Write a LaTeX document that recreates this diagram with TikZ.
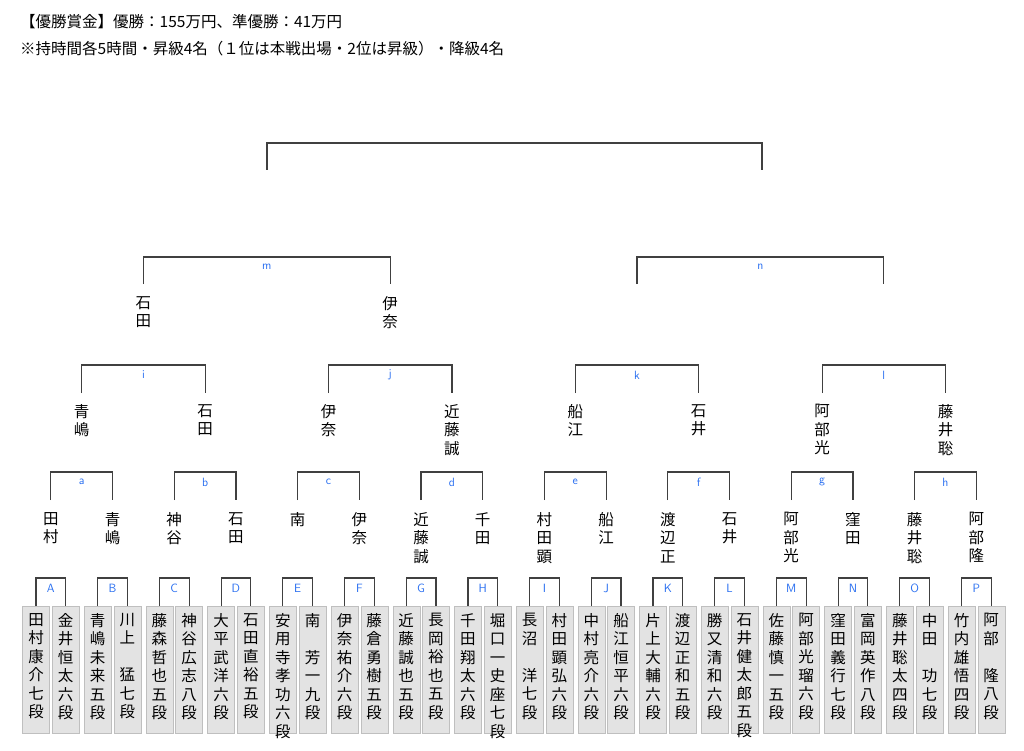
\documentclass[tikz,border=0pt]{standalone}
\usepackage{fontspec}
\setmainfont{Noto Sans CJK JP}
\newfontfamily\cjk{Noto Sans CJK JP}
\usetikzlibrary{positioning}
\definecolor{lblue}{RGB}{40,110,240}
\tikzset{
  player/.style={draw=black!25,fill=black!11,minimum width=27pt,minimum height=127pt,
    anchor=north,inner sep=0pt},
  vname/.style={align=center,font=\cjk\fontsize{15.5}{18.5}\selectfont,inner sep=0pt,anchor=north},
  tag/.style={font=\sffamily\fontsize{12}{12}\selectfont,text=lblue,inner sep=1pt},
  br/.style={line width=1.2pt,black!75}
}
\newcommand{\brk}[5]{%
  \draw[br] (#1,#4) |- (#2,#3) -- (#2,#4);
  \node[tag] at ({(#1+#2)/2},#3+10) {#5};}
\begin{document}
\begin{tikzpicture}[x=1pt,y=-1pt]
\useasboundingbox (0,0) rectangle (1024,751);
\node[anchor=west,font=\cjk\fontsize{15.5}{15.5}\selectfont,inner sep=0pt] (t1) at (20,22) {【優勝賞金】優勝：155万円、準優勝：41万円};
\node[anchor=west,font=\cjk\fontsize{15.5}{15.5}\selectfont,inner sep=0pt] (t2) at (20,49) {※持時間各5時間・昇級4名（１位は本戦出場・2位は昇級）・降級4名};
% players
\foreach \n [count=\i from 0] in {
 {田\\村\\康\\介\\七\\段},{金\\井\\恒\\太\\六\\段},{青\\嶋\\未\\来\\五\\段},{川\\上\\\phantom{一}\\猛\\七\\段},
 {藤\\森\\哲\\也\\五\\段},{神\\谷\\広\\志\\八\\段},{大\\平\\武\\洋\\六\\段},{石\\田\\直\\裕\\五\\段},
 {安\\用\\寺\\孝\\功\\六\\段},{南\\\phantom{一}\\芳\\一\\九\\段},{伊\\奈\\祐\\介\\六\\段},{藤\\倉\\勇\\樹\\五\\段},
 {近\\藤\\誠\\也\\五\\段},{長\\岡\\裕\\也\\五\\段},{千\\田\\翔\\太\\六\\段},{堀\\口\\一\\史\\座\\七\\段},
 {長\\沼\\\phantom{一}\\洋\\七\\段},{村\\田\\顕\\弘\\六\\段},{中\\村\\亮\\介\\六\\段},{船\\江\\恒\\平\\六\\段},
 {片\\上\\大\\輔\\六\\段},{渡\\辺\\正\\和\\五\\段},{勝\\又\\清\\和\\六\\段},{石\\井\\健\\太\\郎\\五\\段},
 {佐\\藤\\慎\\一\\五\\段},{阿\\部\\光\\瑠\\六\\段},{窪\\田\\義\\行\\七\\段},{富\\岡\\英\\作\\八\\段},
 {藤\\井\\聡\\太\\四\\段},{中\\田\\\phantom{一}\\功\\七\\段},{竹\\内\\雄\\悟\\四\\段},{阿\\部\\\phantom{一}\\隆\\八\\段}}{
  \pgfmathsetmacro{\px}{36+61.7*int(\i/2)+29.7*mod(\i,2)}
  \node[player] (p\i) at (\px,606) {};
  \node[vname] at (\px,613) {\n};
}
% first round
\foreach \l [count=\k from 0] in {A,B,C,D,E,F,G,H,I,J,K,L,M,N,O,P}{
  \pgfmathsetmacro{\xa}{36+61.7*\k}
  \pgfmathsetmacro{\xb}{65.7+61.7*\k}
  \brk{\xa}{\xb}{578}{606}{\l}
}
% second round
\foreach \n [count=\i from 0] in {{田\\村},{青\\嶋},{神\\谷},{石\\田},{南},{伊\\奈},{近\\藤\\誠},{千\\田},
 {村\\田\\顕},{船\\江},{渡\\辺\\正},{石\\井},{阿\\部\\光},{窪\\田},{藤\\井\\聡},{阿\\部\\隆}}{
  \node[vname] (s\i) at ({50.8+61.7*\i},512) {\n};
}
\foreach \l [count=\k from 0] in {a,b,c,d,e,f,g,h}{
  \pgfmathsetmacro{\xa}{50.8+123.4*\k}
  \pgfmathsetmacro{\xb}{112.5+123.4*\k}
  \brk{\xa}{\xb}{472}{500}{\l}
}
% quarter
\foreach \n [count=\i from 0] in {{青\\嶋},{石\\田},{伊\\奈},{近\\藤\\誠},{船\\江},{石\\井},{阿\\部\\光},{藤\\井\\聡}}{
  \node[vname] (q\i) at ({81.7+123.4*\i},404) {\n};
}
\foreach \l [count=\k from 0] in {i,j,k,l}{
  \pgfmathsetmacro{\xa}{81.7+246.8*\k}
  \pgfmathsetmacro{\xb}{205.1+246.8*\k}
  \brk{\xa}{\xb}{365}{393}{\l}
}
% semi
\node[vname] (r0) at (143.4,296) {石\\田};
\node[vname] (r1) at (390.2,296) {伊\\奈};
\brk{143.4}{390.2}{257}{284}{m}
\brk{637}{883.8}{257}{284}{n}
% final
\draw[br] (267,170) |- (762,143) -- (762,170);
\end{tikzpicture}
\end{document}
